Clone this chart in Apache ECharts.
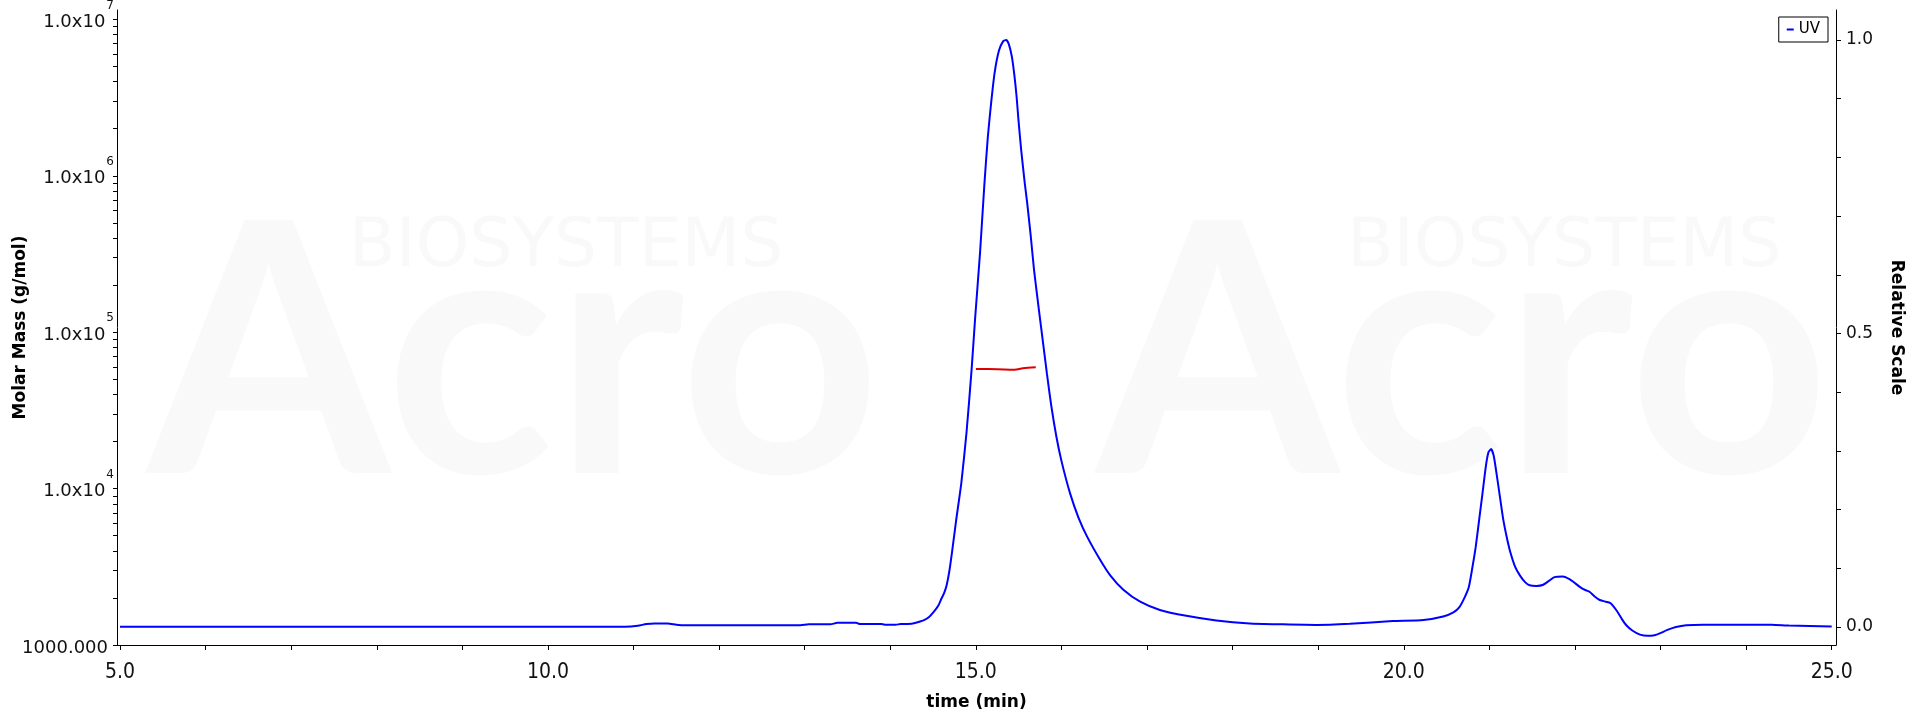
<!DOCTYPE html>
<html>
<head>
<meta charset="utf-8">
<script src="https://cdn.jsdelivr.net/npm/echarts@6/dist/echarts.min.js"></script>
<style>html,body{margin:0;padding:0;background:#fff;}#chart{width:1920px;height:720px;}</style>
</head>
<body>
<div id="chart"></div>
<script>
// ---- UV trace (relative scale, right axis) ----
const uvTime = [5.0,6.0,7.0,8.0,9.0,10.0,10.9,11.05,11.15,11.25,11.4,11.5,11.6,12.0,12.5,12.95,13.05,13.3,13.38,13.6,13.65,13.9,13.95,14.06,14.12,14.25,14.32,14.40,14.46,14.51,14.56,14.60,14.63,14.66,14.69,14.72,14.77,14.83,14.89,14.95,14.99,15.05,15.10,15.14,15.18,15.22,15.27,15.32,15.355,15.385,15.42,15.45,15.475,15.50,15.53,15.57,15.60,15.64,15.68,15.73,15.78,15.83,15.88,15.94,16.00,16.10,16.20,16.30,16.45,16.57,16.72,16.92,17.15,17.46,17.81,18.20,18.59,18.98,19.37,19.87,20.23,20.46,20.58,20.65,20.71,20.76,20.80,20.84,20.88,20.92,20.96,20.99,21.02,21.05,21.08,21.12,21.16,21.20,21.24,21.30,21.36,21.42,21.47,21.55,21.63,21.70,21.76,21.86,21.93,21.98,22.06,22.12,22.17,22.23,22.29,22.36,22.41,22.45,22.50,22.55,22.60,22.67,22.76,22.85,22.93,22.99,23.08,23.18,23.30,23.50,24.00,24.30,24.50,25.00];
const uvValue = [0.0005,0.0005,0.0005,0.0005,0.0005,0.0005,0.0005,0.002,0.005,0.006,0.006,0.004,0.003,0.003,0.003,0.003,0.0045,0.0045,0.007,0.007,0.005,0.005,0.0038,0.0038,0.005,0.0055,0.008,0.012,0.018,0.026,0.036,0.049,0.058,0.072,0.095,0.126,0.182,0.245,0.330,0.438,0.523,0.640,0.755,0.835,0.895,0.945,0.982,0.998,1.000,0.993,0.972,0.940,0.905,0.860,0.812,0.758,0.722,0.668,0.608,0.548,0.490,0.432,0.378,0.325,0.283,0.228,0.186,0.154,0.115,0.088,0.064,0.043,0.029,0.019,0.011,0.006,0.0045,0.0035,0.0055,0.010,0.012,0.018,0.025,0.034,0.050,0.068,0.100,0.136,0.182,0.228,0.275,0.298,0.303,0.292,0.265,0.225,0.185,0.155,0.130,0.103,0.087,0.076,0.071,0.070,0.072,0.079,0.085,0.086,0.082,0.077,0.068,0.063,0.060,0.052,0.046,0.043,0.041,0.035,0.025,0.013,0.003,-0.006,-0.013,-0.015,-0.014,-0.011,-0.005,0.000,0.003,0.004,0.004,0.004,0.0025,0.001];

// ---- Molar mass (g/mol, left log axis) ----
const mmTime = [15.0,15.25,15.45,15.55,15.7];
const mmValue = [58200,58000,57600,58800,59600];

// ---- Axis tick labels ----
const xLabelValues = [5,10,15,20,25];
const leftDecades = [3,4,5,6,7];        // log10 of 1000 ... 1e7
const rightLabelValues = [0,0.5,1.0];

const uvData = uvTime.map((t,i)=>[t,uvValue[i]]);
const mmData = mmTime.map((t,i)=>[t,Math.log10(mmValue[i])]);

const xTicks = []; for (let v=5; v<=25; v++) xTicks.push(v);
const leftTicks = [];
for (let n=3; n<7; n++) for (let k=1; k<=9; k++) leftTicks.push(Math.log10(k*Math.pow(10,n)));
leftTicks.push(7);
const rightTicks = []; for (let i=0;i<=10;i++) rightTicks.push(+(i/10).toFixed(1));

const labelFont = 'DejaVu Sans, Verdana, sans-serif';
const titleStyle = {fontFamily: labelFont, fontWeight: 'bold', fontSize: 17, color: '#000'};
const wm = '#f9f9f9';

const chart = echarts.init(document.getElementById('chart'), null, {renderer:'canvas'});
chart.setOption({
  animation: false,
  backgroundColor: '#ffffff',
  grid: {left: 117, right: 84, top: 10, bottom: 75, containLabel: false, outerBoundsMode: 'none'},
  legend: {
    data: ['UV'], right: 92, top: 17, orient: 'horizontal',
    backgroundColor: '#fff', borderColor: '#000', borderWidth: 1, borderRadius: 0,
    padding: [5, 8], icon: 'rect', itemWidth: 7, itemHeight: 2,
    textStyle: {fontFamily: labelFont, fontSize: 15, color: '#000'}
  },
  graphic: [
    {type:'text', left:147, top:185, silent:true, z:-10, style:{text:'Acro', font:'bold 350px Lato', fill:wm}},
    {type:'text', left:1096, top:185, silent:true, z:-10, style:{text:'Acro', font:'bold 350px Lato', fill:wm}},
    {type:'text', left:349, top:214, silent:true, z:-10, style:{text:'BIOSYSTEMS', font:'68px "DejaVu Sans"', fill:wm}},
    {type:'text', left:1347, top:214, silent:true, z:-10, style:{text:'BIOSYSTEMS', font:'68px "DejaVu Sans"', fill:wm}}
  ],
  xAxis: {
    type: 'value', min: 4.965, max: 25.05,
    name: 'time (min)', nameLocation: 'middle', nameGap: 49, nameMoveOverlap: false, nameTextStyle: titleStyle,
    axisLine: {show: true, onZero: false, lineStyle: {color: '#000', width: 1}},
    axisTick: {show: true, length: 5, customValues: xTicks, lineStyle: {color: '#000'}},
    axisLabel: {customValues: xLabelValues, margin: 17, formatter: v => v.toFixed(1),
      fontFamily: "'Liberation Sans Narrow', 'DejaVu Sans Condensed', 'Liberation Sans', sans-serif", fontSize: 21, color: '#111'},
    splitLine: {show: false}
  },
  yAxis: [
    {
      type: 'value', position: 'left', min: 3, max: 7.06,
      name: 'Molar Mass (g/mol)', nameLocation: 'middle', nameGap: 88, nameMoveOverlap: false, nameTextStyle: titleStyle,
      axisLine: {show: true, lineStyle: {color: '#000', width: 1}},
      axisTick: {show: true, length: 4, customValues: leftTicks, lineStyle: {color: '#000'}},
      axisLabel: {
        customValues: leftDecades, margin: 3,
        formatter: v => (Math.round(v) === 3 ? '{p|1000.000}' : '{b|1.0x10}{s|' + Math.round(v) + '}'),
        rich: {
          p: {fontFamily: labelFont, fontSize: 18, color: '#111', padding: [6, 6, 0, 0]},
          b: {fontFamily: labelFont, fontSize: 18, color: '#111', verticalAlign: 'middle', padding: [6, 0, 0, 0]},
          s: {fontFamily: labelFont, fontSize: 12, color: '#111', verticalAlign: 'middle', padding: [0, 0, 28, 1]}
        }
      },
      splitLine: {show: false}
    },
    {
      type: 'value', position: 'right', min: -0.0307, max: 1.0511,
      name: 'Relative Scale', nameLocation: 'middle', nameGap: 52, nameRotate: -90, nameMoveOverlap: false, nameTextStyle: titleStyle,
      axisLine: {show: true, lineStyle: {color: '#000', width: 1}},
      axisTick: {show: true, length: 5, customValues: rightTicks, lineStyle: {color: '#000'}},
      axisLabel: {customValues: rightLabelValues, margin: 10, formatter: v => v.toFixed(1),
        fontFamily: labelFont, fontSize: 17, color: '#111'},
      splitLine: {show: false}
    }
  ],
  series: [
    {
      name: 'UV', type: 'line', yAxisIndex: 1, data: uvData, showSymbol: false,
      smooth: 0.2, color: '#0000ff',
      lineStyle: {color: '#0000ff', width: 2}, z: 3
    },
    {
      name: 'Molar Mass', type: 'line', yAxisIndex: 0, data: mmData, showSymbol: false,
      smooth: 0.3, color: '#dd0000',
      lineStyle: {color: '#dd0000', width: 2}, z: 4
    }
  ]
});
</script>
</body>
</html>
